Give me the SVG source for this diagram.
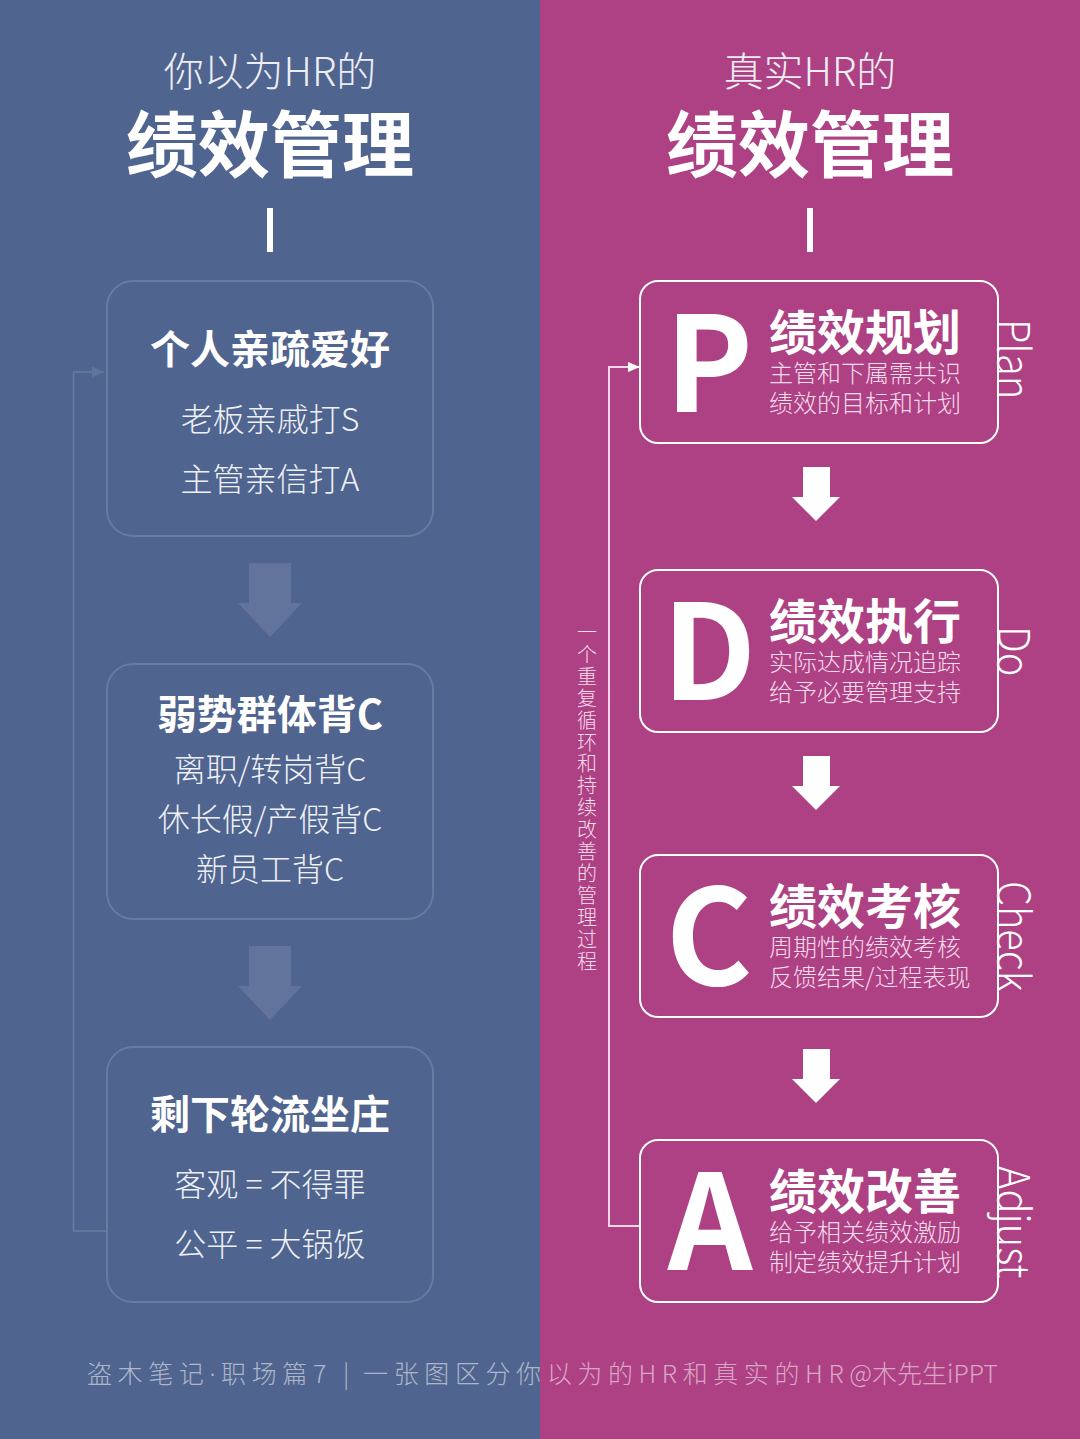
<svg xmlns="http://www.w3.org/2000/svg" width="1080" height="1439" viewBox="0 0 1080 1439">
<defs>
<style>
text{font-family:"Noto Sans CJK SC","Noto Sans",sans-serif;fill:#fff;text-anchor:middle}
.sub{font-size:40px;font-weight:300;fill:#eceef4}
.big{font-size:72px;font-weight:700}
.lh{font-size:40px;font-weight:700}
.lt{font-size:32px;font-weight:300;fill:#eef0f6}
.card{fill:none;stroke:#6a7ba0;stroke-width:2}
.rcard{fill:none;stroke:#fff;stroke-width:2}
.rh{font-size:48px;font-weight:700;text-anchor:start}
.rt{font-size:24px;font-weight:300;text-anchor:start;fill:#f7dcec}
.L{font-size:132px;font-weight:700}
.side{font-size:44px;font-weight:300;text-anchor:start}
.foot{font-size:25px;font-weight:300;text-anchor:start;letter-spacing:5.600px;fill-opacity:.55}
.v{font-size:20px;font-weight:300;text-anchor:start;letter-spacing:1.900px;fill:#f7dcec;writing-mode:vertical-rl;text-orientation:upright}
.la{fill:#62749b}
</style>
<marker id="ah1" markerWidth="13" markerHeight="11" refX="12" refY="5.500" orient="auto" markerUnits="userSpaceOnUse"><path d="M0 0L12 5.500L0 11Z" fill="#62749b"/></marker>
<marker id="ah2" markerWidth="13" markerHeight="11" refX="12" refY="5" orient="auto" markerUnits="userSpaceOnUse"><path d="M0 0L12 5L0 10Z" fill="#fff"/></marker>
</defs>
<rect x="0" y="0" width="540" height="1439" fill="#4f648e"/>
<rect x="540" y="0" width="540" height="1439" fill="#ae4183"/>

<g id="left-title"><text class="sub" x="270" y="86">你以为HR的</text><text class="big" x="270" y="171">绩效管理</text><rect x="267" y="208" width="6" height="44" fill="#fff"/></g>
<g id="right-title"><text class="sub" x="810" y="86">真实HR的</text><text class="big" x="810" y="171">绩效管理</text><rect x="807" y="208" width="6" height="44" fill="#fff"/></g>

<g id="connectors">
<path d="M106 1231H73.500V372H104" fill="none" stroke="#6a7ba0" stroke-width="1.500" marker-end="url(#ah1)"/>
<path d="M640 1226H609V367H640" fill="none" stroke="#f3d5e6" stroke-width="2" marker-end="url(#ah2)"/>
<path class="la" d="M249 563H291V603H302L270 637L238 603H249Z"/>
<path class="la" d="M249 946H291V986H302L270 1020L238 986H249Z"/>
<path d="M803 467H830V497H840L816 521L792 497H803Z" fill="#fff"/>
<path d="M803 756H830V786H840L816 810L792 786H803Z" fill="#fff"/>
<path d="M803 1049H830V1079H840L816 1103L792 1079H803Z" fill="#fff"/>
</g>

<g id="card1"><rect class="card" x="107" y="281" width="326" height="255" rx="26"/><text class="lh" x="270" y="364">个人亲疏爱好</text><text class="lt" x="270" y="431">老板亲戚打S</text><text class="lt" x="270" y="491">主管亲信打A</text></g>
<g id="card2"><rect class="card" x="107" y="664" width="326" height="255" rx="26"/><text class="lh" x="270" y="729">弱势群体背C</text><text class="lt" x="270" y="781">离职/转岗背C</text><text class="lt" x="270" y="831">休长假/产假背C</text><text class="lt" x="270" y="881">新员工背C</text></g>
<g id="card3"><rect class="card" x="107" y="1047" width="326" height="255" rx="26"/><text class="lh" x="270" y="1129">剩下轮流坐庄</text><text class="lt" x="270" y="1196">客观 = 不得罪</text><text class="lt" x="270" y="1256">公平 = 大锅饭</text></g>

<g id="P"><rect class="rcard" x="640" y="281" width="358" height="162" rx="18"/><text class="L" x="709" y="412">P</text><text class="rh" x="769" y="350">绩效规划</text><text class="rt" x="769" y="382">主管和下属需共识</text><text class="rt" x="769" y="412">绩效的目标和计划</text><text class="side" transform="translate(998 319) rotate(90) scale(.905 1)">Plan</text></g>
<g id="D"><rect class="rcard" x="640" y="570" width="358" height="162" rx="18"/><text class="L" x="709" y="700">D</text><text class="rh" x="769" y="639">绩效执行</text><text class="rt" x="769" y="671">实际达成情况追踪</text><text class="rt" x="769" y="701">给予必要管理支持</text><text class="side" transform="translate(998 626) rotate(90) scale(.905 1)">Do</text></g>
<g id="C"><rect class="rcard" x="640" y="855" width="358" height="162" rx="18"/><text class="L" x="709" y="985">C</text><text class="rh" x="769" y="924">绩效考核</text><text class="rt" x="769" y="956">周期性的绩效考核</text><text class="rt" x="769" y="986">反馈结果/过程表现</text><text class="side" transform="translate(998 881) rotate(90) scale(.905 1)">Check</text></g>
<g id="A"><rect class="rcard" x="640" y="1140" width="358" height="162" rx="18"/><text class="L" x="710" y="1270">A</text><text class="rh" x="769" y="1209">绩效改善</text><text class="rt" x="769" y="1241">给予相关绩效激励</text><text class="rt" x="769" y="1271">制定绩效提升计划</text><text class="side" transform="translate(998 1166) rotate(90) scale(.905 1)">Adjust</text></g>

<text class="v" x="587" y="622.500">一个重复循环和持续改善的管理过程</text>
<g id="footer"><text class="foot" x="87" y="1383">盗木笔记<tspan font-family="Noto Sans">·</tspan>职场篇7 | <tspan dx="-3">一</tspan>张图区分你以为的HR和真实的HR<tspan letter-spacing="0">@木先生iPPT</tspan></text></g>
</svg>
